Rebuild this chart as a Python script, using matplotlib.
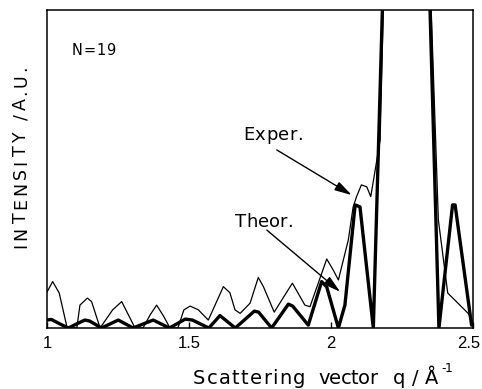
import matplotlib
matplotlib.use('Agg')
import matplotlib.pyplot as plt
from matplotlib.textpath import TextToPath
from matplotlib.font_manager import FontProperties
from matplotlib.transforms import ScaledTranslation

W, H, DPI = 482, 389, 100
FAMILY = ['DejaVu Sans']
TICK_FAMILY = ['Liberation Sans', 'DejaVu Sans']

# Experimental curve (thin line)
q_exp = [1.000, 1.020, 1.043, 1.071, 1.105, 1.116, 1.142, 1.157, 1.187, 1.231,
         1.263, 1.310, 1.338, 1.363, 1.386, 1.410, 1.433, 1.461, 1.482, 1.504,
         1.533, 1.568, 1.621, 1.644, 1.662, 1.680, 1.715, 1.744, 1.762, 1.800,
         1.864, 1.908, 1.926, 1.985, 2.008, 2.026, 2.061, 2.078, 2.090, 2.107,
         2.126, 2.140, 2.173, 2.200, 2.265, 2.330, 2.378, 2.411, 2.483, 2.500]
i_exp = [11.3, 14.6, 11.0, 0, 0, 7.2, 9.4, 8.3, 0, 5.7,
         8.3, 0, 0, 4.1, 7.2, 3.8, 0, 0, 5.7, 6.9,
         5.7, 2.5, 13.0, 11.1, 5.7, 4.6, 7.8, 15.9, 13.0, 5.0,
         14.1, 7.2, 6.7, 21.7, 18.2, 15.1, 27.7, 38.1, 41.3, 45.0,
         44.4, 41.3, 59.1, 160, 400, 160, 34.0, 11.0, 4.6, 2.0]

# Theoretical curve (thick line)
q_the = [1.000, 1.015, 1.045, 1.075, 1.133, 1.150, 1.192, 1.251, 1.303, 1.374,
         1.431, 1.487, 1.512, 1.570, 1.609, 1.663, 1.730, 1.745, 1.791, 1.850,
         1.865, 1.920, 1.967, 1.985, 2.026, 2.049, 2.085, 2.102, 2.149, 2.200,
         2.265, 2.330, 2.380, 2.428, 2.437, 2.495, 2.500]
i_the = [2.5, 2.7, 1.3, 0, 2.5, 2.2, 0, 2.5, 0, 2.5,
         0, 2.8, 2.5, 0, 3.9, 0, 5.3, 5.0, 0, 7.5,
         6.9, 0.9, 14.6, 12.9, 0, 7.2, 38.7, 38.1, 0, 160,
         400, 160, 0, 38.7, 38.7, 0.9, 1.6]

xticks = [1, 1.5, 2, 2.5]
xtick_labels = ['1', '1.5', '2', '2.5']

# annotation arrows (tail -> head, data coords)
exp_arrow = ((1.809, 56.0), (2.073, 41.8))
the_arrow = ((1.774, 30.8), (2.032, 11.4))

fig = plt.figure(figsize=(W / DPI, H / DPI), dpi=DPI)
ax = fig.add_axes([47 / W, 1 - 328 / H, 426 / W, 318 / H])
ax.plot(q_exp, i_exp, color='black', lw=0.9)
ax.plot(q_the, i_the, color='black', lw=2.4)
ax.set_xlim(1, 2.5)
ax.set_ylim(0, 100)
ax.set_yticks([])
ax.set_xticks(xticks)
ax.set_xticklabels(xtick_labels, fontfamily=TICK_FAMILY, fontsize=12)
ax.tick_params(axis='x', direction='in', length=4.5, width=1, pad=6, top=False)
last = ax.get_xticklabels()[-1]
last.set_transform(last.get_transform() + ScaledTranslation(-4 / DPI, 0, fig.dpi_scale_trans))
for s in ax.spines.values():
    s.set_linewidth(1.1)

for (tail, head) in (exp_arrow, the_arrow):
    ax.annotate('', xy=head, xytext=tail,
                arrowprops=dict(arrowstyle='-|>,head_length=0.8,head_width=0.22',
                                lw=1.0, color='black', shrinkA=0, shrinkB=0,
                                mutation_scale=13))

ttp = TextToPath()


def spaced(s, start, end, base, size, vertical=False):
    fp = FontProperties(family=FAMILY, size=size)
    widths = []
    for c in s:
        if c == ' ':
            widths.append(0.318 * size * DPI / 72)
        else:
            w, h, d = ttp.get_text_width_height_descent(c, fp, ismath=False)
            widths.append(w * DPI / 72)
    gap = (abs(end - start) - sum(widths)) / max(len(s) - 1, 1)
    pos = 0.0
    for c, w in zip(s, widths):
        if c != ' ':
            if vertical:
                fig.text(base / W, 1 - (start - pos) / H, c, rotation=90,
                         rotation_mode='anchor', ha='left', va='baseline',
                         fontproperties=fp)
            else:
                fig.text((start + pos) / W, 1 - base / H, c, ha='left',
                         va='baseline', fontproperties=fp)
        pos += w + gap


spaced('N=19', 72, 115, 55, 10.5)
spaced('Exper.', 243, 303, 140, 13)
spaced('Theor.', 235, 293, 227, 13)
spaced('INTENSITY /A.U.', 248, 65, 26, 12.5, vertical=True)
spaced('Scattering', 193, 305, 384, 14)
spaced('vector', 318, 377, 384, 14)
spaced('q/Å', 393, 438, 384, 14)
spaced('-1', 441, 453, 372, 9)

fig.savefig('out.png', dpi=DPI)
